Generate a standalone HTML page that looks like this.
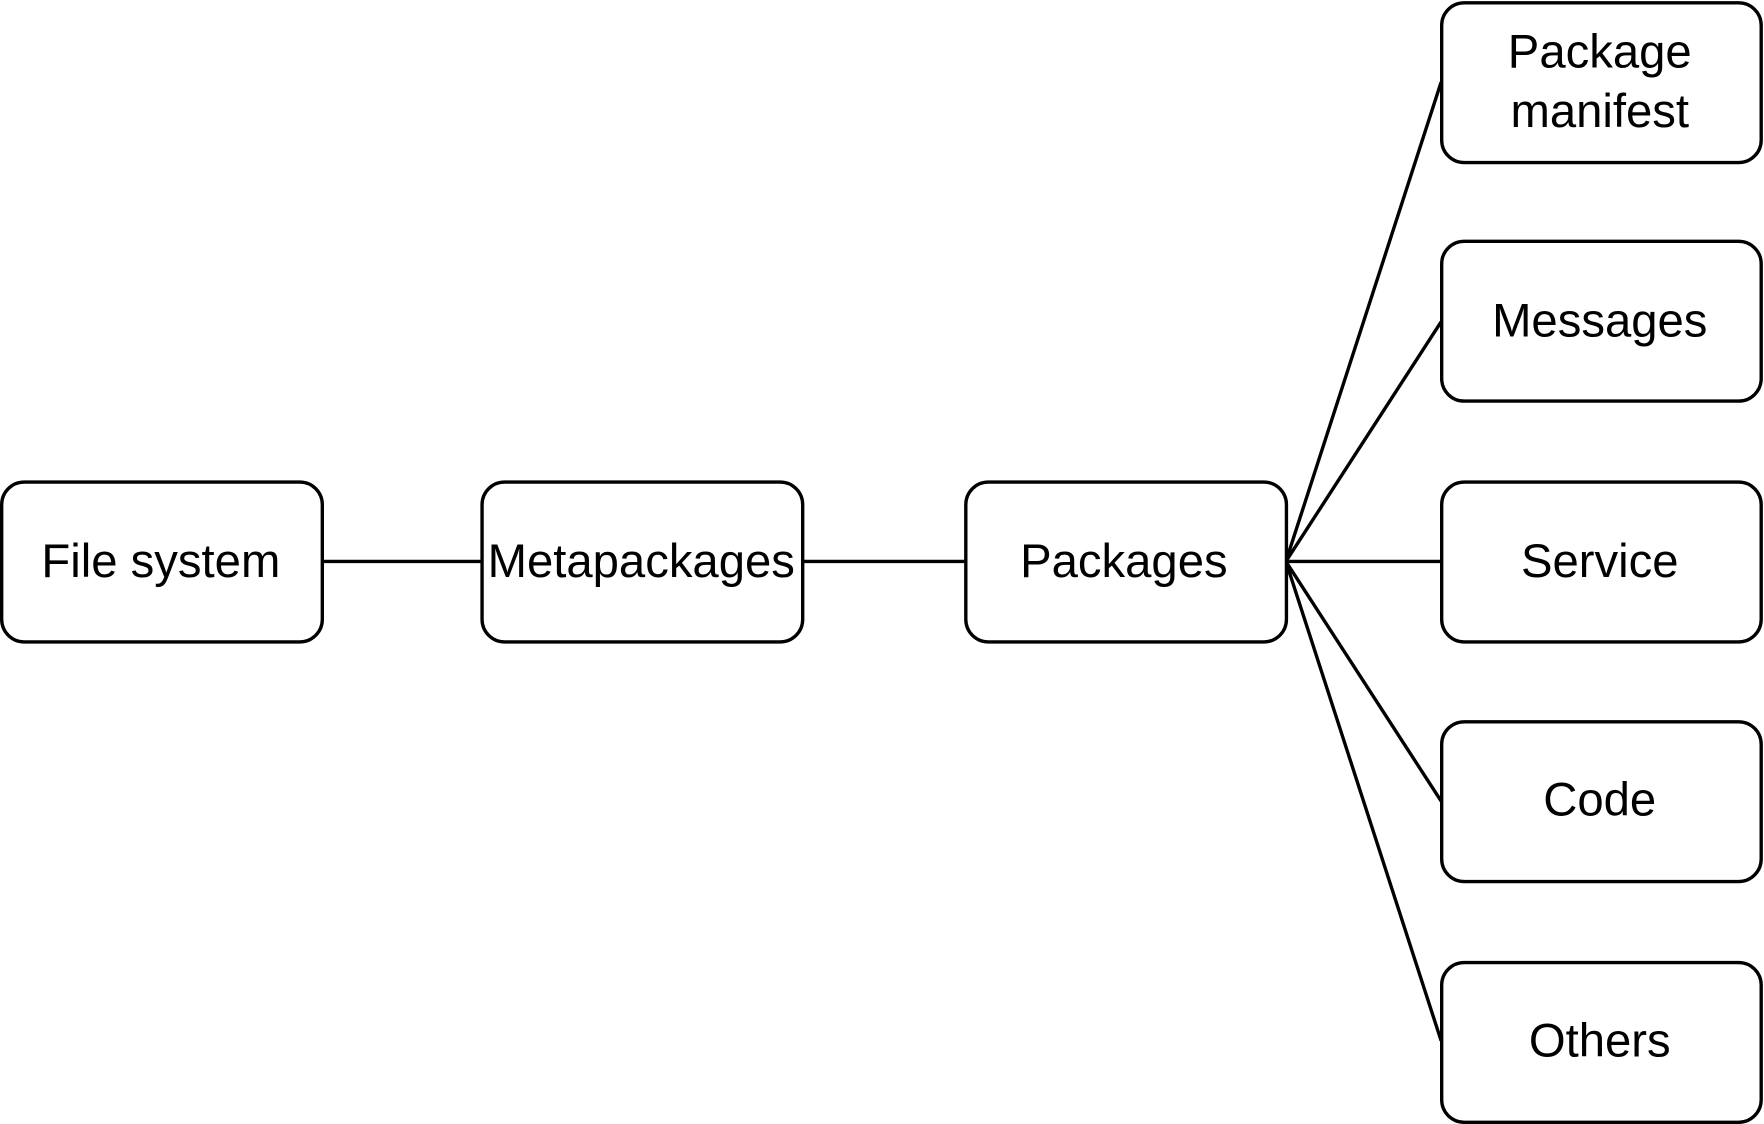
<!DOCTYPE html>
<html><head><meta charset="utf-8"><style>html,body{margin:0;padding:0;background:#fff}svg{display:block}</style></head>
<body>
<svg width="1764" height="1124" viewBox="0 0 1568 999" preserveAspectRatio="none" xmlns="http://www.w3.org/2000/svg">
<g fill="none" stroke="#000" stroke-width="3">
<line x1="287" y1="499" x2="428" y2="499"/>
<line x1="713" y1="499" x2="858" y2="499"/>
<line x1="1143" y1="499" x2="1281" y2="73"/>
<line x1="1143" y1="499" x2="1281" y2="286"/>
<line x1="1143" y1="499" x2="1281" y2="499"/>
<line x1="1143" y1="499" x2="1281" y2="712"/>
<line x1="1143" y1="499" x2="1281" y2="925"/>
<rect x="1.5" y="428.5" width="285" height="142" rx="20" fill="#fff"/>
<rect x="428.5" y="428.5" width="285" height="142" rx="20" fill="#fff"/>
<rect x="858.5" y="428.5" width="285" height="142" rx="20" fill="#fff"/>
<rect x="1281.5" y="2.5" width="284" height="142" rx="20" fill="#fff"/>
<rect x="1281.5" y="214.5" width="284" height="142" rx="20" fill="#fff"/>
<rect x="1281.5" y="428.5" width="284" height="142" rx="20" fill="#fff"/>
<rect x="1281.5" y="641.5" width="284" height="142" rx="20" fill="#fff"/>
<rect x="1281.5" y="855.5" width="284" height="142" rx="20" fill="#fff"/>
</g>
<g font-family="Liberation Sans, sans-serif" font-size="42" text-anchor="middle" fill="#000">
<text x="143" y="513">File system</text>
<text x="570" y="513">Metapackages</text>
<text x="999" y="513">Packages</text>
<text x="1422" y="60">Package</text>
<text x="1422" y="113">manifest</text>
<text x="1422" y="299">Messages</text>
<text x="1422" y="513">Service</text>
<text x="1422" y="725">Code</text>
<text x="1422" y="939">Others</text>
</g>
</svg>
</body></html>
